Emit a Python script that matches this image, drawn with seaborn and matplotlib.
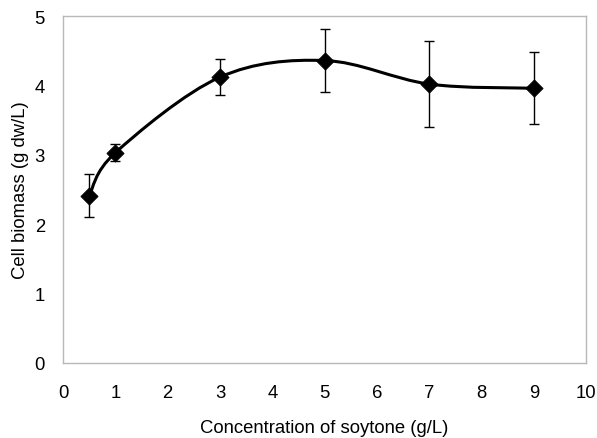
import matplotlib
matplotlib.use("Agg")
import matplotlib.pyplot as plt
from matplotlib.path import Path
from matplotlib.patches import PathPatch
import numpy as np
import pandas as pd
import seaborn as sns

# Data
soytone = [0.5, 1, 3, 5, 7, 9]
biomass = [2.41, 3.03, 4.12, 4.36, 4.02, 3.96]
error = [0.31, 0.12, 0.26, 0.46, 0.62, 0.52]
x_ticks = [0, 1, 2, 3, 4, 5, 6, 7, 8, 9, 10]
y_ticks = [0, 1, 2, 3, 4, 5]

sns.set_theme(style="white")
plt.rcParams['font.family'] = ['Liberation Sans', 'DejaVu Sans']

df = pd.DataFrame({"soytone": soytone, "biomass": biomass, "err": error})

fig = plt.figure(figsize=(5.97, 4.39), dpi=100)
ax = fig.add_axes([0.1055, 0.171, 0.8765, 0.79])

# Smoothed line (Excel-style Catmull-Rom Bezier through the data points)
pts = np.column_stack([df["soytone"], df["biomass"]])
n = len(pts)
verts = [tuple(pts[0])]
codes = [Path.MOVETO]
for i in range(n - 1):
    p_prev = pts[i - 1] if i > 0 else pts[i]
    p0 = pts[i]
    p1 = pts[i + 1]
    p_next = pts[i + 2] if i + 2 < n else pts[i + 1]
    c1 = p0 + (p1 - p_prev) / 6.0
    c2 = p1 - (p_next - p0) / 6.0
    verts += [tuple(c1), tuple(c2), tuple(p1)]
    codes += [Path.CURVE4] * 3
ax.add_patch(PathPatch(Path(verts, codes), facecolor="none", edgecolor="black",
                       lw=2.2, zorder=2, capstyle="round", joinstyle="round"))

ax.errorbar(df["soytone"], df["biomass"], yerr=df["err"], fmt="none",
            ecolor="black", elinewidth=1.0, capsize=3.4, capthick=1.0, zorder=3)
sns.scatterplot(data=df, x="soytone", y="biomass", marker="D", s=75,
                color="black", edgecolor="black", zorder=4, ax=ax)

fs = 13.3
ax.set_xlim(0, 10)
ax.set_ylim(0, 5)
ax.set_xticks(x_ticks)
ax.set_yticks(y_ticks)
ax.set_xticklabels([str(t) for t in x_ticks], fontsize=fs)
ax.set_yticklabels([str(t) for t in y_ticks], fontsize=fs)
ax.tick_params(axis="x", direction="in", length=4, color="#b0b0b0", pad=15)
ax.tick_params(axis="y", length=0, pad=13)
ax.set_xlabel("Concentration of soytone (g/L)", fontsize=fs, labelpad=13)
ax.set_ylabel("Cell biomass (g dw/L)", fontsize=fs, labelpad=4)
ax.xaxis.label.set_color("black")
ax.yaxis.label.set_color("black")
ax.tick_params(labelcolor="black")
for s in ax.spines.values():
    s.set_visible(True)
    s.set_color("#b8b8b8")
    s.set_linewidth(1.0)

fig.savefig("out.png", dpi=100, facecolor="white")
